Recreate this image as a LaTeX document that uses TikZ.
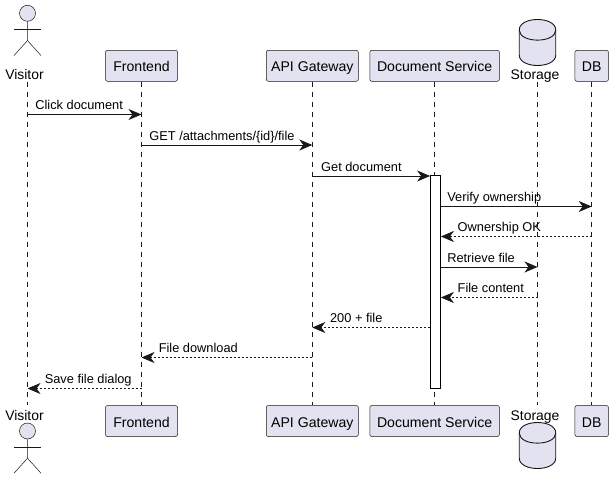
\documentclass[tikz,border=0pt]{standalone}
\usepackage{fontspec}
\setmainfont{Liberation Sans}
\usetikzlibrary{arrows.meta}
\definecolor{boxfill}{HTML}{E2E2F0}
\definecolor{boxline}{HTML}{181818}
\tikzset{
  party/.style={draw=boxline,line width=.5pt,fill=boxfill,rounded corners=2pt,minimum height=31pt,inner sep=0pt,text height=13.4pt,text depth=1pt,font=\fontsize{14.1}{16}\selectfont},
  caption/.style={inner sep=0pt,text height=11pt,text depth=1pt,font=\fontsize{13.9}{16}\selectfont},
  head/.style={circle,draw=boxline,line width=.5pt,fill=boxfill,minimum size=16pt,inner sep=0pt},
  limb/.style={draw=boxline,line width=.5pt},
  barrel/.style={draw=boxline,line width=.9pt,fill=boxfill},
  lifeline/.style={draw=boxline,line width=.5pt,dash pattern=on 5pt off 5pt},
  bar/.style={draw=black,line width=.8pt,fill=white,minimum width=10pt,minimum height=213pt,inner sep=0pt},
  call/.style={draw=boxline,line width=.8pt,-{Stealth[length=13pt,width=11pt,inset=4pt]}},
  reply/.style={draw=boxline,line width=.6pt,dash pattern=on 2pt off 2pt,-{Stealth[length=13pt,width=11pt,inset=4pt]}},
  msg/.style={anchor=base west,inner sep=0pt,yshift=4.7pt,font=\fontsize{12.8}{15}\selectfont}
}
\begin{document}
\begin{tikzpicture}[x=1pt,y=-1pt]
  \useasboundingbox (0,0) rectangle (613,487);
  % top row
  \node[head] (visitorhead) at (27.5,13.3) {};
  \node[caption] (visitorlabel) at (24.5,75) {Visitor};
  \node[party,minimum width=72pt] (frontend) at (141.5,65.8) {Frontend};
  \node[party,minimum width=92pt] (gateway) at (312.3,65.8) {API Gateway};
  \node[party,minimum width=129.5pt] (docservice) at (434.6,65.8) {Document Service};
  \coordinate (storagedrum) at (537.5,42.5);
  \node[caption] (storagelabel) at (535,75) {Storage};
  \node[party,minimum width=33.5pt] (db) at (591.7,65.8) {DB};
  % bottom row
  \node[head] (visitorheadb) at (27.5,431) {};
  \node[caption] (visitorlabelb) at (24.5,415) {Visitor};
  \node[party,minimum width=72pt] (frontendb) at (141.5,421) {Frontend};
  \node[party,minimum width=92pt] (gatewayb) at (312.3,421) {API Gateway};
  \node[party,minimum width=129.5pt] (docserviceb) at (434.6,421) {Document Service};
  \node[caption] (storagelabelb) at (535,415) {Storage};
  \coordinate (storagedrumb) at (537.5,445.5);
  \node[party,minimum width=33.5pt] (dbb) at (591.7,421) {DB};
  % stick figures
  \foreach \n in {visitorhead,visitorheadb}{
    \draw[limb] (\n.south) -- ++(0,19) coordinate (\n hip) -- ++(-13.5,15);
    \draw[limb] (\n hip) -- ++(13.5,15);
    \draw[limb] ([xshift=-13.5pt,yshift=-8pt]\n.south) -- ++(27,0);
  }
  % drums
  \foreach \n in {storagedrum,storagedrumb}{
    \draw[barrel] ([shift={(-18.25,-12.5)}]\n) .. controls ([shift={(-18.25,-26.5)}]\n) and ([shift={(18.25,-26.5)}]\n) .. ([shift={(18.25,-12.5)}]\n)
      -- ([shift={(18.25,12.5)}]\n) .. controls ([shift={(18.25,26.5)}]\n) and ([shift={(-18.25,26.5)}]\n) .. ([shift={(-18.25,12.5)}]\n) -- cycle;
    \draw[barrel,fill=none] ([shift={(-18.25,-12.5)}]\n) .. controls ([shift={(-18.25,1)}]\n) and ([shift={(18.25,1)}]\n) .. ([shift={(18.25,-12.5)}]\n);
  }
  % lifelines
  \draw[lifeline] (visitorhead |- frontend.south) -- (visitorhead |- frontendb.north);
  \draw[lifeline] (frontend.south) -- (frontendb.north);
  \draw[lifeline] (gateway.south) -- (gatewayb.north);
  \draw[lifeline] (docservice.south) -- (docserviceb.north);
  \draw[lifeline] (storagedrum |- frontend.south) -- (storagedrum |- frontendb.north);
  \draw[lifeline] (db.south) -- (dbb.north);
  \node[bar] (docbar) at (435.5,281.5) {};
  % messages
  \draw[call] (visitorhead |- 0,114.5) -- node[msg,pos=0,xshift=7.5pt] {Click document} (frontend |- 0,114.5);
  \draw[call] (frontend |- 0,145) -- node[msg,pos=0,xshift=7.5pt] {GET /attachments/\{id\}/file} (gateway |- 0,145);
  \draw[call] (gateway |- 0,176) -- node[msg,pos=0,xshift=8.5pt] {Get document} (docbar.west |- 0,176);
  \draw[call] (docbar.east |- 0,206.5) -- node[msg,pos=0,xshift=6pt] {Verify ownership} (db |- 0,206.5);
  \draw[reply] (db |- 0,236.5) -- node[msg,pos=1,xshift=16.5pt] {Ownership OK} (docbar.east |- 0,236.5);
  \draw[call] (docbar.east |- 0,267) -- node[msg,pos=0,xshift=6pt] {Retrieve file} (storagedrum |- 0,267);
  \draw[reply] (storagedrum |- 0,297.5) -- node[msg,pos=1,xshift=16.5pt] {File content} (docbar.east |- 0,297.5);
  \draw[reply] (docbar.west |- 0,327.5) -- node[msg,pos=1,xshift=17.5pt] {200 + file} (gateway |- 0,327.5);
  \draw[reply] (gateway |- 0,357.5) -- node[msg,pos=1,xshift=17pt] {File download} (frontend |- 0,357.5);
  \draw[reply] (frontend |- 0,388.5) -- node[msg,pos=1,xshift=17pt] {Save file dialog} (visitorhead |- 0,388.5);
\end{tikzpicture}
\end{document}
